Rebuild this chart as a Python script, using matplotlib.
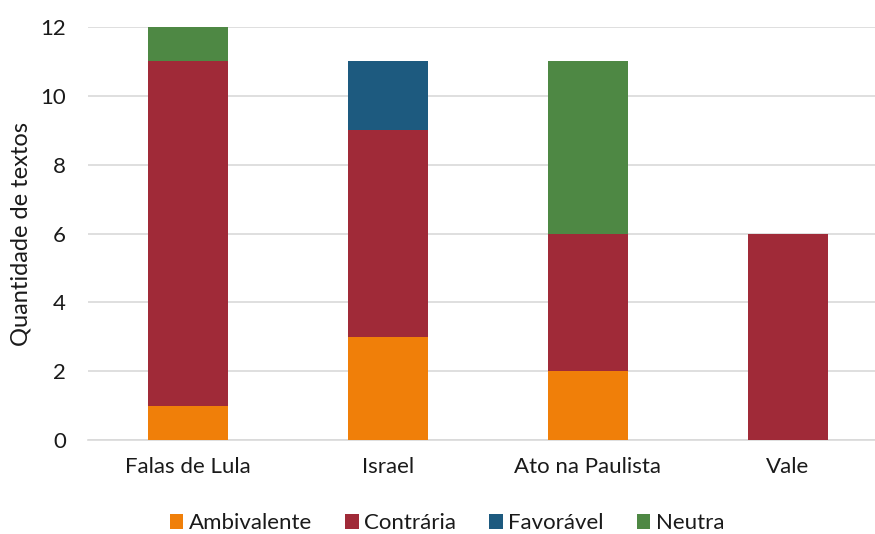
import matplotlib.pyplot as plt
import numpy as np

plt.rcParams['font.family'] = ['Lato', 'DejaVu Sans']

categorias = ['Falas de Lula', 'Israel', 'Ato na Paulista', 'Vale']
series = ['Ambivalente', 'Contrária', 'Favorável', 'Neutra']
ambivalente = [1, 3, 2, 0]
contraria = [10, 6, 4, 6]
favoravel = [0, 2, 0, 0]
neutra = [1, 0, 5, 0]
cores = ['#F07F09', '#A02A38', '#1D5A7F', '#4E8844']

fig = plt.figure(figsize=(8.75, 5.34), dpi=100)
ax = fig.add_axes([88 / 875, 94 / 534, 800 / 875, 413 / 534])

x = np.arange(len(categorias))
base = np.zeros(len(categorias))
for nome, vals, cor in zip(series, [ambivalente, contraria, favoravel, neutra], cores):
    ax.bar(x, vals, width=0.4, bottom=base, color=cor, label=nome, zorder=3)
    base += np.array(vals)

ax.set_xlim(-0.5, 3.5)
ax.set_ylim(0, 12)
ax.set_yticks(range(0, 13, 2))
ax.set_xticks(x)
ax.set_xticklabels(categorias)
ax.yaxis.grid(True, color='#d9d9d9', linewidth=1.2, zorder=0)
for s in ['top', 'right', 'left']:
    ax.spines[s].set_visible(False)
ax.spines['bottom'].set_color('#d9d9d9')
ax.spines['bottom'].set_linewidth(1.2)
ax.tick_params(axis='both', length=0, labelsize=16, colors='#1a1a1a')
ax.tick_params(axis='x', pad=12)
ax.tick_params(axis='y', pad=16)
ax.set_ylabel('Quantidade de textos', fontsize=17, color='#1a1a1a', labelpad=6)

fig.legend(loc='center', bbox_to_anchor=(0.511, 0.02), ncol=4, frameon=False,
           fontsize=16, handlelength=0.6, handleheight=0.6, handletextpad=0.25,
           columnspacing=1.5, labelcolor='#1a1a1a')

fig.savefig('out.png', dpi=100)
